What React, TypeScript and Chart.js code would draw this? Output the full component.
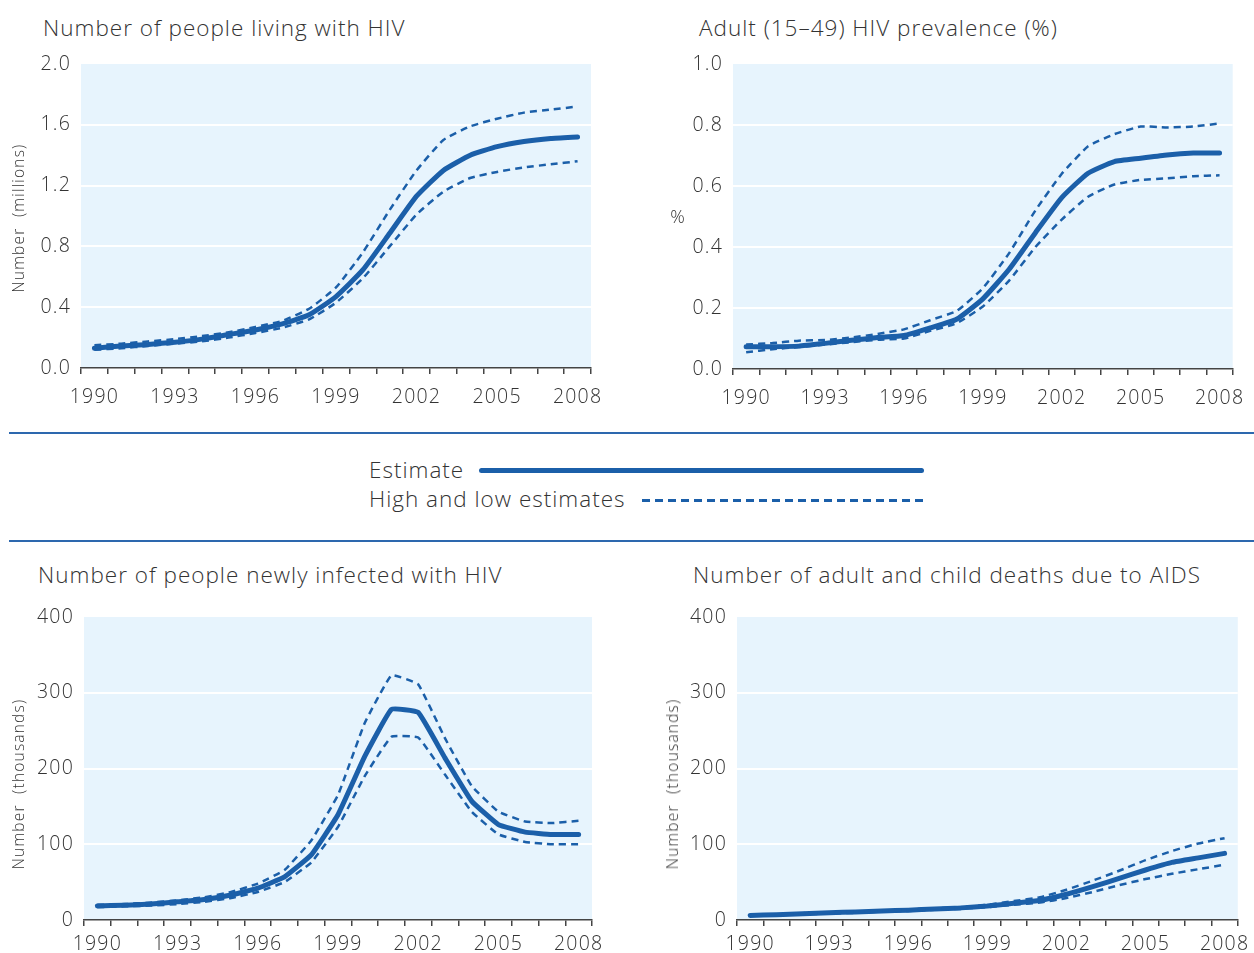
import React, { useEffect, useRef } from "react";
import { Chart, registerables } from "chart.js";

Chart.register(...registerables);

const years = ["1990", "1991", "1992", "1993", "1994", "1995", "1996", "1997", "1998", "1999", "2000", "2001", "2002", "2003", "2004", "2005", "2006", "2007", "2008"];

const livingEstimate = [0.13, 0.145, 0.155, 0.17, 0.19, 0.22, 0.25, 0.29, 0.35, 0.47, 0.645, 0.886, 1.13, 1.3, 1.4, 1.456, 1.49, 1.51, 1.52];
const livingHigh = [0.15, 0.16, 0.175, 0.19, 0.21, 0.235, 0.27, 0.31, 0.39, 0.53, 0.76, 1.04, 1.3, 1.5, 1.59, 1.64, 1.68, 1.7, 1.72];
const livingLow = [0.12, 0.13, 0.145, 0.16, 0.175, 0.2, 0.23, 0.265, 0.32, 0.43, 0.59, 0.8, 1.01, 1.16, 1.25, 1.29, 1.32, 1.34, 1.36];

const prevalenceEstimate = [0.073, 0.073, 0.075, 0.084, 0.094, 0.103, 0.11, 0.135, 0.163, 0.23, 0.327, 0.447, 0.562, 0.642, 0.68, 0.691, 0.702, 0.708, 0.708];
const prevalenceHigh = [0.08, 0.085, 0.093, 0.095, 0.103, 0.115, 0.13, 0.16, 0.19, 0.265, 0.38, 0.52, 0.64, 0.73, 0.77, 0.795, 0.792, 0.795, 0.805];
const prevalenceLow = [0.055, 0.065, 0.072, 0.08, 0.088, 0.096, 0.1, 0.125, 0.15, 0.205, 0.29, 0.4, 0.49, 0.565, 0.605, 0.62, 0.625, 0.632, 0.635];

const newEstimate = [18.6, 19.5, 21, 24, 27, 33, 42, 57, 86, 139, 216, 278, 274, 214, 157, 126, 116, 113, 113];
const newHigh = [20, 21, 23, 26, 30, 37, 48, 66, 105, 165, 260, 323, 311, 240, 177, 143, 130, 128, 131];
const newLow = [17, 18, 19, 21, 24, 29, 37, 50, 76, 123, 190, 242, 241, 192, 143, 113, 103, 100, 100];

const deathsEstimate = [6, 7, 8.4, 9.7, 10.6, 12, 13, 14.5, 16, 18.5, 22, 26, 34, 44, 55, 66, 76, 82, 88];
const deathsHigh = [6.5, 7.5, 9, 10, 11, 12.5, 14, 15.5, 17, 20, 25, 30, 40, 52, 65, 79, 91, 101, 108];
const deathsLow = [5.5, 6.5, 7.5, 8.5, 9.5, 11, 12, 13.5, 15, 17, 20, 23, 29, 37, 46, 54, 61, 67, 73];

const LINE = "#1b5fa9";
const BG = "#e7f4fd";
const TEXT = "#333333";
const AXIS = "#444444";
const FONT = "'Open Sans', Lato, sans-serif";
const WEIGHT = 300;

const bgPlugin = {
  id: "plotBg",
  beforeDraw(chart: any) {
    const { ctx, chartArea } = chart;
    ctx.save();
    ctx.fillStyle = BG;
    ctx.fillRect(chartArea.left, chartArea.top, chartArea.right - chartArea.left, chartArea.bottom - chartArea.top);
    ctx.restore();
    ctx.letterSpacing = "1.2px";
  },
  afterDraw(chart: any) {
    chart.ctx.letterSpacing = "0px";
  },
};

type PanelProps = {
  cx: number; cy: number; cw: number; ch: number;
  plotLeft: number; plotRight: number; plotTop: number; plotBottom: number;
  yMax: number; yStep: number; decimals: number; xTickPad: number;
  est: number[]; high: number[]; low: number[];
  tension: number;
};

function Panel(p: PanelProps) {
  const ref = useRef<HTMLCanvasElement | null>(null);
  useEffect(() => {
    if (!ref.current) return;
    const dashed = {
      borderColor: LINE,
      borderWidth: 2.5,
      borderDash: [7, 5],
      pointRadius: 0,
      fill: false,
      tension: p.tension,
    };
    const chart = new Chart(ref.current, {
      type: "line",
      data: {
        labels: years,
        datasets: [
          { label: "High estimate", data: p.high, ...dashed },
          { label: "Low estimate", data: p.low, ...dashed },
          {
            label: "Estimate",
            data: p.est,
            borderColor: LINE,
            borderWidth: 5,
            borderCapStyle: "round",
            borderJoinStyle: "round",
            pointRadius: 0,
            fill: false,
            tension: p.tension,
          },
        ],
      },
      options: {
        responsive: false,
        animation: false,
        devicePixelRatio: 1,
        layout: {
          padding: { top: p.plotTop - p.cy, right: p.cx + p.cw - p.plotRight, left: 0, bottom: 0 },
        },
        plugins: {
          legend: { display: false },
          tooltip: { enabled: false },
        },
        scales: {
          x: {
            type: "category",
            offset: true,
            grid: { offset: true, drawOnChartArea: false, drawTicks: true, tickLength: 6, color: AXIS, lineWidth: 1.5 },
            border: { display: true, color: AXIS, width: 1.5 },
            ticks: {
              autoSkip: false,
              maxRotation: 0,
              minRotation: 0,
              padding: p.xTickPad,
              color: TEXT,
              font: { family: FONT, size: 19.5, weight: WEIGHT },
              callback: (_v: any, i: number) => (i % 3 === 0 ? years[i] : ""),
            },
            afterFit: (s: any) => {
              s.height = p.cy + p.ch - p.plotBottom;
            },
          },
          y: {
            min: 0,
            max: p.yMax,
            ticks: {
              stepSize: p.yStep,
              padding: 10,
              color: TEXT,
              font: { family: FONT, size: 19.5, weight: WEIGHT },
              callback: (v: any) => Number(v).toFixed(p.decimals),
            },
            grid: {
              color: (c: any) =>
                c.tick && (Math.abs(c.tick.value) < 1e-9 || Math.abs(c.tick.value - p.yMax) < 1e-9) ? "rgba(0,0,0,0)" : "#ffffff",
              lineWidth: 2,
              drawTicks: false,
            },
            border: { display: false },
            afterFit: (s: any) => {
              s.width = p.plotLeft - p.cx;
            },
          },
        },
      } as any,
      plugins: [bgPlugin],
    });
    return () => chart.destroy();
  }, []);
  return (
    <canvas
      ref={ref}
      width={p.cw}
      height={p.ch}
      style={{ position: "absolute", left: p.cx, top: p.cy, width: p.cw, height: p.ch }}
    />
  );
}

const textStyle = {
  position: "absolute" as const,
  fontSize: 22.5,
  fontWeight: WEIGHT,
  letterSpacing: "1px",
  lineHeight: "30px",
  whiteSpace: "nowrap" as const,
  color: TEXT,
};

function Title({ x, y, text }: { x: number; y: number; text: string }) {
  return <div style={{ ...textStyle, left: x, top: y - 15 }}>{text}</div>;
}

function YTitle({ x, y, text, size, rotate }: { x: number; y: number; text: string; size: number; rotate: boolean }) {
  return (
    <div
      style={{
        position: "absolute",
        left: x,
        top: y,
        transform: `translate(-50%, -50%)${rotate ? " rotate(-90deg)" : ""}`,
        fontSize: size,
        fontWeight: WEIGHT,
        letterSpacing: "1.2px",
        lineHeight: "20px",
        whiteSpace: "pre",
        color: TEXT,
      }}
    >
      {text}
    </div>
  );
}

export default function App() {
  return (
    <div
      style={{
        position: "absolute",
        left: 0,
        top: 0,
        width: 1254,
        height: 953,
        background: "#ffffff",
        fontFamily: FONT,
        color: TEXT,
        overflow: "hidden",
      }}
    >
      <Title x={43} y={28} text="Number of people living with HIV" />
      <Title x={699} y={28} text="Adult (15–49) HIV prevalence (%)" />
      <Title x={38} y={575} text="Number of people newly infected with HIV" />
      <Title x={693} y={575} text="Number of adult and child deaths due to AIDS" />

      <Panel cx={0} cy={40} cw={627} ch={380} plotLeft={81} plotRight={591} plotTop={64} plotBottom={368}
        yMax={2} yStep={0.4} decimals={1} xTickPad={12}
        est={livingEstimate} high={livingHigh} low={livingLow} tension={0.15} />
      <Panel cx={627} cy={40} cw={627} ch={380} plotLeft={733} plotRight={1247} plotTop={64} plotBottom={369}
        yMax={1} yStep={0.2} decimals={1} xTickPad={12}
        est={prevalenceEstimate} high={prevalenceHigh} low={prevalenceLow} tension={0.15} />
      <Panel cx={0} cy={590} cw={627} ch={363} plotLeft={84} plotRight={592} plotTop={617} plotBottom={920}
        yMax={400} yStep={100} decimals={0} xTickPad={7}
        est={newEstimate} high={newHigh} low={newLow} tension={0.1} />
      <Panel cx={627} cy={590} cw={627} ch={363} plotLeft={737} plotRight={1248} plotTop={617} plotBottom={920}
        yMax={400} yStep={100} decimals={0} xTickPad={7}
        est={deathsEstimate} high={deathsHigh} low={deathsLow} tension={0.15} />

      <YTitle x={18} y={218} text="Number  (millions)" size={15.5} rotate={true} />
      <YTitle x={678} y={216} text="%" size={18} rotate={false} />
      <YTitle x={18} y={784} text="Number  (thousands)" size={15.5} rotate={true} />
      <YTitle x={672} y={784} text="Number  (thousands)" size={15.5} rotate={true} />

      <div style={{ position: "absolute", left: 9, top: 432, width: 1245, height: 2, background: "#2d68ae" }} />
      <div style={{ position: "absolute", left: 9, top: 540, width: 1245, height: 2, background: "#2d68ae" }} />

      <div style={{ ...textStyle, left: 369, top: 455 }}>Estimate</div>
      <div style={{ position: "absolute", left: 479, top: 468, width: 445, height: 5, borderRadius: 3, background: LINE }} />
      <div style={{ ...textStyle, left: 369, top: 484 }}>High and low estimates</div>
      <div
        style={{
          position: "absolute",
          left: 642,
          top: 499,
          width: 282,
          height: 2.5,
          background: `repeating-linear-gradient(to right, ${LINE} 0px, ${LINE} 8px, transparent 8px, transparent 13px)`,
        }}
      />
    </div>
  );
}
